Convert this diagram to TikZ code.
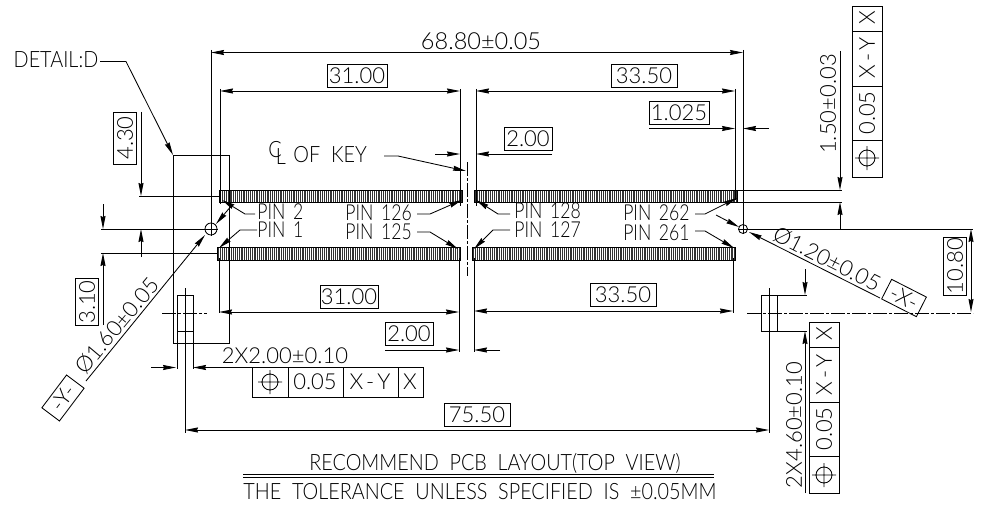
\documentclass[tikz,border=0pt]{standalone}
\usepackage{fontspec}
\setmainfont{Lato}[UprightFont=* Light]
\newfontfamily\capfont{Lato}[UprightFont=* Light,FakeStretch=0.88,WordSpace=2]
\newfontfamily\pinfont{Lato}[UprightFont=* Light,FakeStretch=0.8,WordSpace=1.6]
\usetikzlibrary{arrows.meta}
\tikzset{
txt/.style={inner sep=0pt,font=\fontsize{23.5}{24}\selectfont},
lowtxt/.style={inner sep=0pt,font=\fontsize{22}{24}\selectfont},
captxt/.style={inner sep=0pt,font=\capfont\fontsize{22.5}{24}\selectfont},
pintxt/.style={inner sep=0pt,font=\pinfont\fontsize{22}{24}\selectfont},
boxlab/.style={lowtxt,draw,minimum height=23pt},
dimarr/.style={-{Stealth[length=13pt,width=5pt,inset=1pt]}},
both/.style={{Stealth[length=13pt,width=5pt,inset=1pt]}-{Stealth[length=13pt,width=5pt,inset=1pt]}},
centre/.style={dash pattern=on 14pt off 2pt on 3pt off 2pt},
}
\newcommand{\xy}{X\kern3pt-\kern3pt Y}
\begin{document}
\begin{tikzpicture}[x=1pt,y=-1pt,line width=0.85pt]
\useasboundingbox(0,0)rectangle(982,508);
\coordinate(HL)at(211,229);\coordinate(HR)at(743,229);
\foreach \x in {219,220.85,...,462}\draw[black!80,line width=1pt](\x,190)--(\x,202);
\foreach \x in {474,475.85,...,737}\draw[black!80,line width=1pt](\x,190)--(\x,202);
\foreach \x in {217,218.85,...,460}\draw[black!80,line width=1pt](\x,247)--(\x,260);
\foreach \x in {472,473.85,...,735}\draw[black!80,line width=1pt](\x,247)--(\x,260);
\draw(219,190)rectangle(462,202)(474,190)rectangle(737,202);
\draw(217,247)rectangle(460,260)(472,247)rectangle(735,260);
\draw(HL)circle[radius=6pt](HR)circle[radius=4.5pt];
\draw(204,229)--(218,229)(211,222)--(211,236)(738,229)--(748,229)(743,224)--(743,234);
\draw(211,50)--(211,223)(743,50)--(743,224)(220,89)--(220,204)(460,89)--(460,206)(476,89)--(476,206)(735,89)--(735,200);
\draw(219,258)--(219,313)(459,258)--(459,352)(474,258)--(474,352)(733,258)--(733,313);
\draw[centre](467,162)--(467,276);
\draw(748,229)--(973,229)(737,190)--(842,190)(737,202)--(842,202);
\draw(101,229)--(205,229)(101,253)--(218,253)(139,196)--(219,196);
\draw(173.5,155)rectangle(229.5,343);
\draw(177,295)rectangle(193,331)(177,331)--(177,369)(193,331)--(193,369)(185,288)--(185,433);
\draw(761,295)rectangle(777,331)(777,295)--(807,295)(777,331)--(807,331)(769,288)--(769,433);
\draw[centre](162,313)--(207,313);
\draw[centre](747,313)--(973,313);
\draw[both](211,52.5)--(743,52.5);
\draw[both](220,91)--(460,91);
\draw[both](476,91)--(735,91);
\draw[both](219,312)--(459,312);
\draw[both](474,311)--(733,311);
\draw[both](185,430)--(769,430);
\draw[both](971,229)--(971,312);
\draw[dimarr](649,128.5)--(735,128.5);\draw[dimarr](769,128.5)--(743,128.5);
\draw[dimarr](435,154)--(460,154);\draw[dimarr](552,154)--(476,154);
\draw[dimarr](385,350)--(459,350);\draw[dimarr](500,350)--(474,350);
\draw[dimarr](840,51)--(840,190);\draw[dimarr](840,229)--(840,202);
\draw[dimarr](141,112)--(141,196);\draw[dimarr](141,257)--(141,229);
\draw[dimarr](103,204)--(103,229);\draw[dimarr](103,325)--(103,253);
\draw[dimarr](151,367.5)--(176,367.5);\draw[dimarr](252,367.5)--(193,367.5);
\draw[dimarr](805,269)--(805,295);\draw[dimarr](805,493)--(805,331);
\draw[dimarr](100,61.5)--(126,61.5)--(173,155);
\draw[dimarr](384,156)--(398,156)--(466,171);
\draw[dimarr](255,214)--(245,214)--(222,200);
\draw[dimarr](257,230)--(240,230)--(219,248);
\draw[dimarr](417,214)--(430,214)--(462,200);
\draw[dimarr](417,232)--(430,232)--(458,249);
\draw[dimarr](510,214)--(498,214)--(476,200);
\draw[dimarr](510,230)--(493,230)--(474,249);
\draw[dimarr](695,214)--(705,214)--(737,198);
\draw[dimarr](695,231)--(705,231)--(734,248);
\draw[dimarr](86,381)--(205,235);\draw[dimarr](232,205)--(216,224);
\draw[dimarr](716,215)--(739,227);\draw[dimarr](880,298)--(749,232);
\node[captxt](detail)at(56,60){DETAIL:D};
\node[txt](total)at(481,41){68.80±0.05};
\node[boxlab,minimum width=60pt](topA)at(357,75.5){31.00};
\node[boxlab,minimum width=66pt](topB)at(644,75.5){33.50};
\node[boxlab,minimum width=60pt](edge)at(679,113){1.025};
\node[boxlab,minimum width=48pt](keyT)at(528,139){2.00};
\node[boxlab,minimum width=58pt](botA)at(349,296.5){31.00};
\node[boxlab,minimum width=66pt](botB)at(623,294.5){33.50};
\node[boxlab,minimum width=48pt](keyB)at(409,334){2.00};
\node[boxlab,minimum width=66pt](pitch)at(477,414.5){75.50};
\node[boxlab,minimum width=52pt,rotate=90](hA)at(125,138){4.30};
\node[boxlab,minimum width=47pt,rotate=90](hB)at(87,302){3.10};
\node[boxlab,minimum width=58pt,rotate=90](hC)at(955,266){10.80};
\node[captxt](cl)at(275,150){C};
\node[captxt](clL)at(281,157){L};
\node[captxt,anchor=west](key)at(293,155){OF KEY};
\node[pintxt,anchor=west](pTwo)at(257,212){PIN 2};
\node[pintxt,anchor=west](pOne)at(257,230){PIN 1};
\node[pintxt,anchor=west](pA)at(345,213){PIN 126};
\node[pintxt,anchor=west](pB)at(345,232){PIN 125};
\node[pintxt,anchor=west](pC)at(514,211){PIN 128};
\node[pintxt,anchor=west](pD)at(514,230){PIN 127};
\node[pintxt,anchor=east](pE)at(690,213){PIN 262};
\node[pintxt,anchor=east](pF)at(690,233){PIN 261};
\node[lowtxt,rotate=90](hgt)at(828,104){1.50±0.03};
\node[lowtxt,rotate=90](wid)at(794,425){2X4.60±0.10};
\node[lowtxt](drill)at(285,356){2X2.00±0.10};
\node[lowtxt,rotate=50](dY)at(117,326){Ø1.60±0.05};
\node[lowtxt,rotate=-27](dX)at(827,259){Ø1.20±0.05};
\node[boxlab,minimum width=41pt,minimum height=22pt,rotate=53](dtmY)at(63,398){-Y-};
\node[boxlab,minimum width=39pt,minimum height=22pt,rotate=-27](dtmX)at(904,298){-X-};
\draw(852,6)rectangle(882,177)(852,31)--(882,31)(852,86)--(882,86)(852,140)--(882,140);
\draw(252,367)rectangle(423,397)(288,367)--(288,397)(343,367)--(343,397)(398,367)--(398,397);
\draw(809,322)rectangle(839,493)(809,347)--(839,347)(809,402)--(839,402)(809,456)--(839,456);
\foreach \x/\y in {867/158,270/382,824/475}{
\draw(\x,\y)circle[radius=8pt](\x-12,\y)--(\x+12,\y)(\x,\y-12)--(\x,\y+12);}
\node[lowtxt,rotate=90](fA)at(867,113){0.05};
\node[lowtxt,rotate=90](fB)at(867,58){\xy};
\node[lowtxt,rotate=90](fC)at(867,18){X};
\node[lowtxt](gA)at(315,382){0.05};
\node[lowtxt](gB)at(370,382){\xy};
\node[lowtxt](gC)at(410,382){X};
\node[lowtxt,rotate=90](jA)at(824,429){0.05};
\node[lowtxt,rotate=90](jB)at(824,375){\xy};
\node[lowtxt,rotate=90](jC)at(824,334){X};
\node[captxt](rec)at(495,463){RECOMMEND PCB LAYOUT(TOP VIEW)};
\node[captxt](tol)at(480,492){THE TOLERANCE UNLESS SPECIFIED IS ±0.05MM};
\draw(243,474.5)--(714,474.5)(243,477)--(714,477);
\end{tikzpicture}
\end{document}
